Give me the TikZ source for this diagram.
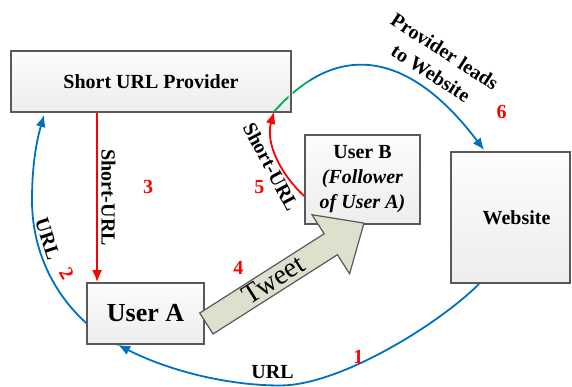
\documentclass[tikz,border=0pt]{standalone}
\usepackage{fontspec}
\setmainfont{Liberation Serif}
\usetikzlibrary{arrows.meta,calc}
\pgfdeclarelayer{back}
\pgfsetlayers{back,main}
\definecolor{cblue}{RGB}{0,112,192}
\definecolor{cred}{RGB}{255,0,0}
\definecolor{cgreen}{RGB}{0,176,80}
\definecolor{cbord}{RGB}{89,89,89}
\definecolor{ctweet}{RGB}{221,224,204}
\begin{document}
\begin{tikzpicture}[x=1pt,y=1pt,
  box/.style={draw=cbord, line width=1.8pt, top color=gray!2, bottom color=gray!14, inner sep=0pt, font=\bfseries\fontsize{20}{25}\selectfont, align=center},
  lbl/.style={font=\bfseries\fontsize{20}{24}\selectfont, inner sep=0pt},
  num/.style={lbl, text=cred},
  bl/.style={draw=cblue, line width=1.8pt},
  rd/.style={draw=cred, line width=1.8pt},
  tip/.style={-{Latex[length=12pt,width=10pt]}}
]
\useasboundingbox (0,0) rectangle (572,387);

% boxes
\node[box, minimum width=280pt, minimum height=61pt] (prov) at (151,305.5) {Short URL Provider};
\node[box, minimum width=117pt, minimum height=61pt, font=\bfseries\fontsize{26}{30}\selectfont] (usera) at (145.5,73.5) {User A};
\node[box, minimum width=115pt, minimum height=89pt] (userb) at (362.5,207.5) {User B\\\textit{(Follower}\\\textit{of User A)}};
\node[box, minimum width=119pt, minimum height=131pt] (web) at (510.5,169.5) {\hspace*{12pt}Website};

\coordinate (bot) at (280,1.5);
\coordinate (lft) at (32,187);

% blue URL curve, part hidden behind User A
\begin{pgfonlayer}{back}
\draw[bl, tip] ([xshift=-27.5pt]usera.south) .. controls +(-44.5,22.5) and +(0,-70) .. (lft)
  .. controls +(0,30) and +(-8.7,-30) .. ([xshift=34pt,yshift=-2pt]prov.south west);
\end{pgfonlayer}

% blue URL curve from Website to User A
\draw[bl, tip] ([xshift=29pt]web.south west) .. controls +(-40,-40) and +(60,0) .. (bot)
  .. controls +(-50,0) and +(53,-27) .. ([xshift=-27.5pt]usera.south);

% red Short-URL straight
\draw[rd, tip] ([xshift=87pt]prov.south west) -- ([xshift=11pt]usera.north west);

% red Short-URL arc
\coordinate (rt) at ([xshift=-18pt,yshift=1pt]prov.south east);
\draw[rd, tip] ([yshift=-16.5pt]userb.west) .. controls +(-22,20.4) and +(-8.8,-32.5) .. (rt);

% provider leads to website
\begin{scope}
\clip (310,0) rectangle (572,387);
\draw[bl, tip] (rt) .. controls +(66,75) and +(-72,95.5) .. ([xshift=34pt,yshift=1pt]web.north west);
\end{scope}
\begin{scope}
\clip (0,0) rectangle (288.5,387) (292.5,0) rectangle (310,387);
\draw[draw=cgreen, line width=1.8pt] (rt) .. controls +(66,75) and +(-72,95.5) .. ([xshift=34pt,yshift=1pt]web.north west);
\end{scope}

% Tweet block arrow
\begin{scope}[shift={($(usera.east)+(1.5,-10)$)}, rotate=32.5]
\draw[draw=cbord, fill=ctweet, line width=1.2pt, line join=miter]
  (0,-12.4) -- (147.5,-12.4) -- (147.5,-35) -- (186.8,0) -- (147.5,35) -- (147.5,12.4) -- (0,12.4) -- cycle;
\node[rotate=32.5, font=\fontsize{28}{30}\selectfont, inner sep=0pt] (tweet) at (80,1) {Tweet};
\end{scope}

% labels
\node[num] (n3) at (148,200) {3};
\node[lbl, rotate=-90] (su1) at (108.5,189.5) {Short-URL};
\node[lbl, rotate=-72] (url2) at (47.5,148) {URL};
\node[num, rotate=-60] (n2) at (66.7,113.7) {2};
\node[num] (n5) at (259.3,200.3) {5};
\node[lbl, rotate=-62] (su5) at (271,220.3) {Short-URL};
\node[num] (n4) at (238.3,118.7) {4};
\node[lbl, rotate=-33, align=center, font=\bfseries\fontsize{20}{25.6}\selectfont] (plw) at (437.9,324.6) {Provider leads\\to Website};
\node[num] (n6) at (501.7,275.3) {6};
\node[num] (n1) at (358.3,30.3) {1};
\node[lbl] (url1) at (272.5,14.5) {URL};
\end{tikzpicture}
\end{document}
